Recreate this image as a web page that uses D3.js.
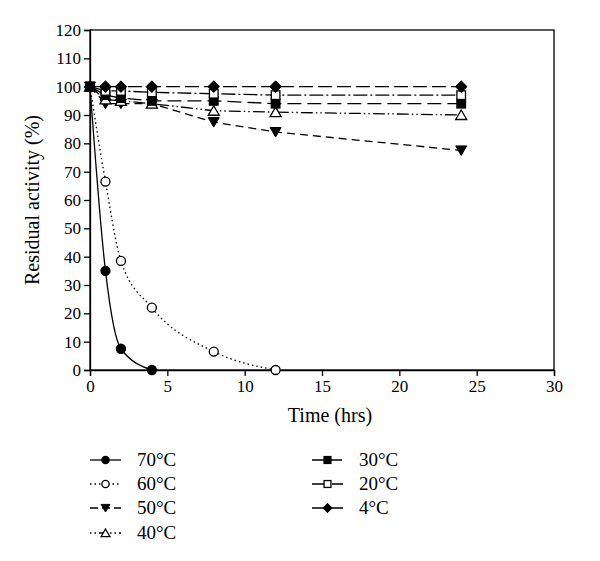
<!DOCTYPE html>
<html><head><meta charset="utf-8">
<script src="https://cdn.jsdelivr.net/npm/d3@7"></script>
<style>body{margin:0;background:#fff}svg{font-family:"Liberation Serif","DejaVu Serif",serif}</style>
</head><body><svg id="c" width="600" height="561"></svg>
<script>
const xTicks = [0,5,10,15,20,25,30];
const yTicks = [0,10,20,30,40,50,60,70,80,90,100,110,120];
const seriesNames = ["70°C","60°C","50°C","40°C","30°C","20°C","4°C"];
const t70 = [0,1,2,4];
const v70 = [100,35,7.5,0];
const t60 = [0,1,2,4,8,12];
const v60 = [100,66.5,38.5,22,6.5,0];
const tLong = [0,1,2,4,8,12,24];
const v50 = [100,94,94,94,87.5,84,77.5];
const v40 = [100,95.5,95,94,91.5,91,90];
const v30 = [100,97,96,95,95,94,94];
const v20 = [100,98.5,98.5,98,97.5,97,97];
const v4  = [100,100,100,100,100,100,100];

const series = [
  {name:seriesNames[0], t:t70, v:v70, dash:null, marker:"circle", fill:"#000", curve:true},
  {name:seriesNames[1], t:t60, v:v60, dash:"1.5,3", marker:"circle", fill:"#fff", curve:true},
  {name:seriesNames[2], t:tLong, v:v50, dash:"8,5", marker:"tridown", fill:"#000"},
  {name:seriesNames[3], t:tLong, v:v40, dash:"12,3,1.5,3,1.5,3", marker:"triup", fill:"#fff"},
  {name:seriesNames[4], t:tLong, v:v30, dash:"14,6", marker:"square", fill:"#000"},
  {name:seriesNames[5], t:tLong, v:v20, dash:"14,3,2,3", marker:"square", fill:"#fff"},
  {name:seriesNames[6], t:tLong, v:v4, dash:"14,5", marker:"diamond", fill:"#000"}
];

const svg = d3.select("#c");
const L=90,R=554,T=30,B=370;
const x = d3.scaleLinear().domain([0,30]).range([L,R]);
const y = d3.scaleLinear().domain([0,120]).range([B,T]);

svg.append("rect").attr("x",L).attr("y",T).attr("width",R-L).attr("height",B-T)
  .attr("fill","none").attr("stroke","#000").attr("stroke-width",1.3);

const xa = svg.append("g").attr("transform",`translate(0,${B})`)
  .call(d3.axisBottom(x).tickValues(xTicks).tickSize(6).tickPadding(4).tickFormat(d3.format("d")));
const ya = svg.append("g").attr("transform",`translate(${L},0)`)
  .call(d3.axisLeft(y).tickValues(yTicks).tickSize(6).tickPadding(3).tickFormat(d3.format("d")));
[xa,ya].forEach(a=>{
  a.selectAll("path").attr("stroke","#000").attr("stroke-width",1.3);
  a.selectAll("line").attr("stroke","#000").attr("stroke-width",1.3);
  a.selectAll("text").attr("font-family","Liberation Serif").attr("font-size",17).attr("fill","#000");
});

svg.append("text").attr("x",330).attr("y",422).attr("text-anchor","middle")
  .attr("font-size",20).text("Time (hrs)");
svg.append("text").attr("transform",`translate(39,${(T+B)/2}) rotate(-90)`).attr("text-anchor","middle")
  .attr("font-size",20).text("Residual activity (%)");

function marker(g, type, fill, cx, cy, k){
  k = k||1;
  if(type==="circle"){
    g.append("circle").attr("cx",cx).attr("cy",cy).attr("r",4.5*k).attr("fill",fill).attr("stroke","#000").attr("stroke-width",1.3);
  } else if(type==="square"){
    g.append("rect").attr("x",cx-4.3*k).attr("y",cy-4.3*k).attr("width",8.6*k).attr("height",8.6*k).attr("fill",fill).attr("stroke","#000").attr("stroke-width",1.3);
  } else if(type==="diamond"){
    const r=5.8*k;
    g.append("path").attr("d",`M${cx},${cy-r}L${cx+r},${cy}L${cx},${cy+r}L${cx-r},${cy}Z`).attr("fill",fill).attr("stroke","#000").attr("stroke-width",1);
  } else if(type==="tridown"){
    g.append("path").attr("d",`M${cx-5.5*k},${cy-4.5*k}L${cx+5.5*k},${cy-4.5*k}L${cx},${cy+5*k}Z`).attr("fill",fill).attr("stroke","#000").attr("stroke-width",1);
  } else if(type==="triup"){
    g.append("path").attr("d",`M${cx-5.5*k},${cy+4.5*k}L${cx+5.5*k},${cy+4.5*k}L${cx},${cy-5*k}Z`).attr("fill",fill).attr("stroke","#000").attr("stroke-width",1.3);
  }
}

const drawOrder = [2,3,4,5,6,1,0];
drawOrder.forEach(i=>{
  const s = series[i];
  const pts = s.t.map((t,j)=>[t,s.v[j]]);
  const line = d3.line().x(d=>x(d[0])).y(d=>y(d[1])).curve(s.curve?d3.curveMonotoneX:d3.curveLinear);
  svg.append("path").attr("d",line(pts)).attr("fill","none").attr("stroke","#000")
    .attr("stroke-width",1.3).attr("stroke-dasharray",s.dash);
});
drawOrder.forEach(i=>{
  const s = series[i];
  const g = svg.append("g");
  s.t.forEach((t,j)=>marker(g,s.marker,s.fill,x(t),y(s.v[j])));
});

const leg = svg.append("g");
const legPos = [[90,460],[90,484],[90,508],[90,533],[312,460],[312,484],[312,508]];
const legDash = [null,"1.5,3","8,4","1.5,3,1.5,3,8,3","12,6","12,3,2,3","14,5"];
series.forEach((s,i)=>{
  const [lx,ly] = legPos[i];
  leg.append("line").attr("x1",lx).attr("x2",lx+31).attr("y1",ly).attr("y2",ly)
    .attr("stroke","#000").attr("stroke-width",1.3).attr("stroke-dasharray",legDash[i]);
  marker(leg,s.marker,s.fill,lx+15.5,ly,0.8);
  leg.append("text").attr("x",lx+47).attr("y",ly+6).attr("font-size",19).text(s.name);
});
</script></body></html>
